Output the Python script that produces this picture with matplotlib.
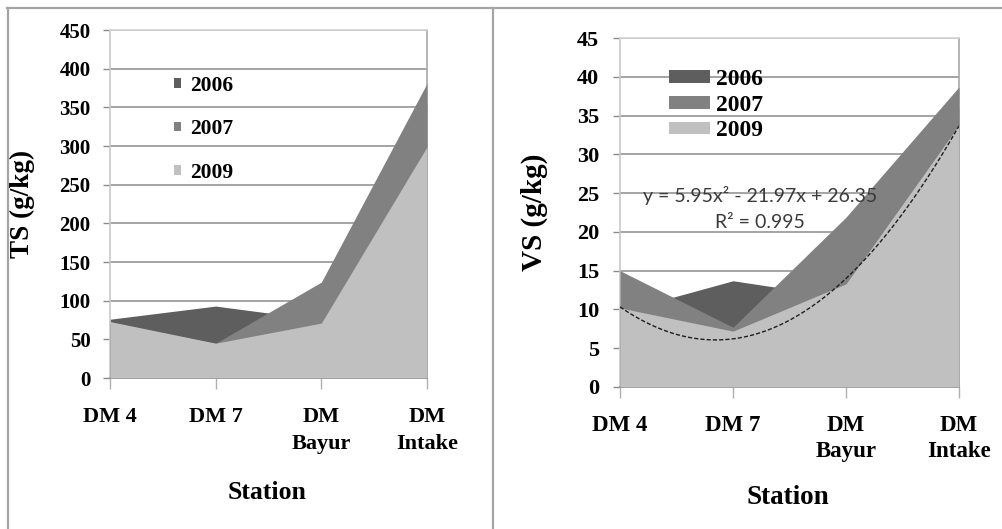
import matplotlib
matplotlib.use("Agg")
import matplotlib.pyplot as plt
import numpy as np
from matplotlib.lines import Line2D
from matplotlib.patches import Patch

# ---- data -------------------------------------------------------------
stations = ["DM 4", "DM 7", "DM\nBayur", "DM\nIntake"]
years = ["2006", "2007", "2009"]

ts_2006 = [76, 93, 75, 350]
ts_2007 = [70, 45, 124, 381]
ts_2009 = [73, 45, 71, 299]

vs_2006 = [9.7, 13.7, 11.5, 36.0]
vs_2007 = [15.0, 7.7, 21.9, 38.7]
vs_2009 = [10.2, 7.2, 13.3, 33.8]

# quadratic trend for the 2009 VS series (x = 1..4 along the stations)
trend_coef = [5.95, -21.97, 26.35]
trend_label = "y = 5.95x\u00b2 - 21.97x + 26.35"
r2_label = "R\u00b2 = 0.995"

ts_ticks = [0, 50, 100, 150, 200, 250, 300, 350, 400, 450]
vs_ticks = [0, 5, 10, 15, 20, 25, 30, 35, 40, 45]

colors = {"2006": "#5e5e5e", "2007": "#818181", "2009": "#c0c0c0"}

# ---- figure -----------------------------------------------------------
W, H = 1003, 529
fig = plt.figure(figsize=(W / 100, H / 100), dpi=100)
SERIF = ["Liberation Serif", "DejaVu Serif"]


def px_axes(x0, y0, x1, y1):
    return fig.add_axes([x0 / W, 1 - y1 / H, (x1 - x0) / W, (y1 - y0) / H])


def style_axes(ax, ticks, ymax, tick_fs, xtick_fs, ypad, xpad, lsp):
    x = np.arange(len(stations))
    ax.set_xlim(0, len(stations) - 1)
    ax.set_ylim(0, ymax)
    ax.set_yticks(ticks)
    ax.set_yticklabels([str(t) for t in ticks], fontfamily=SERIF,
                       fontweight="bold", fontsize=tick_fs)
    ax.set_xticks(x)
    ax.set_xticklabels(stations, fontfamily=SERIF, fontweight="bold",
                       fontsize=xtick_fs, linespacing=lsp)
    ax.tick_params(axis="y", length=5, width=1, color="#8a8a8a", pad=ypad)
    ax.tick_params(axis="x", length=8, width=1, color="#b0b0b0", pad=xpad)
    ax.grid(axis="y", color="#8c8c8c", linewidth=1.1, zorder=0)
    ax.set_axisbelow(True)
    ax.spines["left"].set_color("#c8c8c8")
    ax.spines["top"].set_color("#d4d4d4")
    ax.spines["right"].set_color("#a8a8a8")
    ax.spines["bottom"].set_color("#8c8c8c")
    for s in ax.spines.values():
        s.set_linewidth(1.2)


def draw_areas(ax, series):
    x = np.arange(len(stations))
    for z, (yr, vals) in enumerate(series):
        ax.fill_between(x, 0, vals, color=colors[yr], linewidth=0,
                        zorder=2 + z)


# ---- left panel: TS ---------------------------------------------------
axL = px_axes(110, 30, 427, 378)
style_axes(axL, ts_ticks, 450, 15, 16, 9, 13, 1.45)
draw_areas(axL, [("2006", ts_2006), ("2007", ts_2007), ("2009", ts_2009)])
axL.set_ylabel("TS (g/kg)", fontfamily=SERIF, fontweight="bold",
               fontsize=19.5)
axL.yaxis.set_label_coords(-0.237, 0.5)
axL.set_xlabel("Station", fontfamily=SERIF, fontweight="bold",
               fontsize=18.5, va="center")
axL.xaxis.set_label_coords(0.497, -0.328)

handlesL = [Patch(facecolor=colors[y], edgecolor="none") for y in years]
axL.legend(handlesL, years, loc="upper left",
           bbox_to_anchor=(174 / W, 1 - 76 / H),
           bbox_transform=fig.transFigure, frameon=False,
           prop={"family": SERIF, "weight": "bold", "size": 15.5},
           handlelength=0.33, handleheight=0.33, handletextpad=0.4,
           labelspacing=1.08, borderpad=0, borderaxespad=0)

# ---- right panel: VS --------------------------------------------------
axR = px_axes(620, 38, 959, 387)
style_axes(axR, vs_ticks, 45, 16, 16.5, 10, 12, 1.35)
draw_areas(axR, [("2006", vs_2006), ("2007", vs_2007), ("2009", vs_2009)])

xs = np.linspace(0, len(stations) - 1, 200)
axR.plot(xs, np.polyval(trend_coef, xs + 1), color="#1e1e1e",
         linewidth=1.0, linestyle=(0, (3, 1.5)), zorder=6)
axR.text(0.413, 0.55, trend_label, transform=axR.transAxes, ha="center",
         va="center", fontsize=14, color="#3a3a3a", family="Lato",
         zorder=7)
axR.text(0.413, 0.47, r2_label, transform=axR.transAxes, ha="center",
         va="center", fontsize=14, color="#3a3a3a", family="Lato",
         zorder=7)

axR.set_ylabel("VS (g/kg)", fontfamily=SERIF, fontweight="bold", fontsize=21)
axR.yaxis.set_label_coords(-0.212, 0.5)
axR.set_xlabel("Station", fontfamily=SERIF, fontweight="bold", fontsize=19.5,
               va="center")
axR.xaxis.set_label_coords(0.496, -0.318)

handlesR = [Patch(facecolor=colors[y], edgecolor="none") for y in years]
axR.legend(handlesR, years, loc="upper left",
           bbox_to_anchor=(669 / W, 1 - 69 / H),
           bbox_transform=fig.transFigure, frameon=False,
           prop={"family": SERIF, "weight": "bold", "size": 17},
           handlelength=1.75, handleheight=0.45, handletextpad=0.25,
           labelspacing=0.2, borderpad=0, borderaxespad=0)

# ---- outer frame -------------------------------------------------------
frame_kw = dict(color="#a4a4a4", linewidth=1.6, transform=fig.transFigure)
fig.add_artist(Line2D([7 / W, 1], [1 - 8 / H] * 2, **frame_kw))
fig.add_artist(Line2D([8 / W] * 2, [0, 1 - 8 / H], **frame_kw))
fig.add_artist(Line2D([493 / W] * 2, [0, 1 - 8 / H], **frame_kw))

fig.savefig("out.png", dpi=100)
